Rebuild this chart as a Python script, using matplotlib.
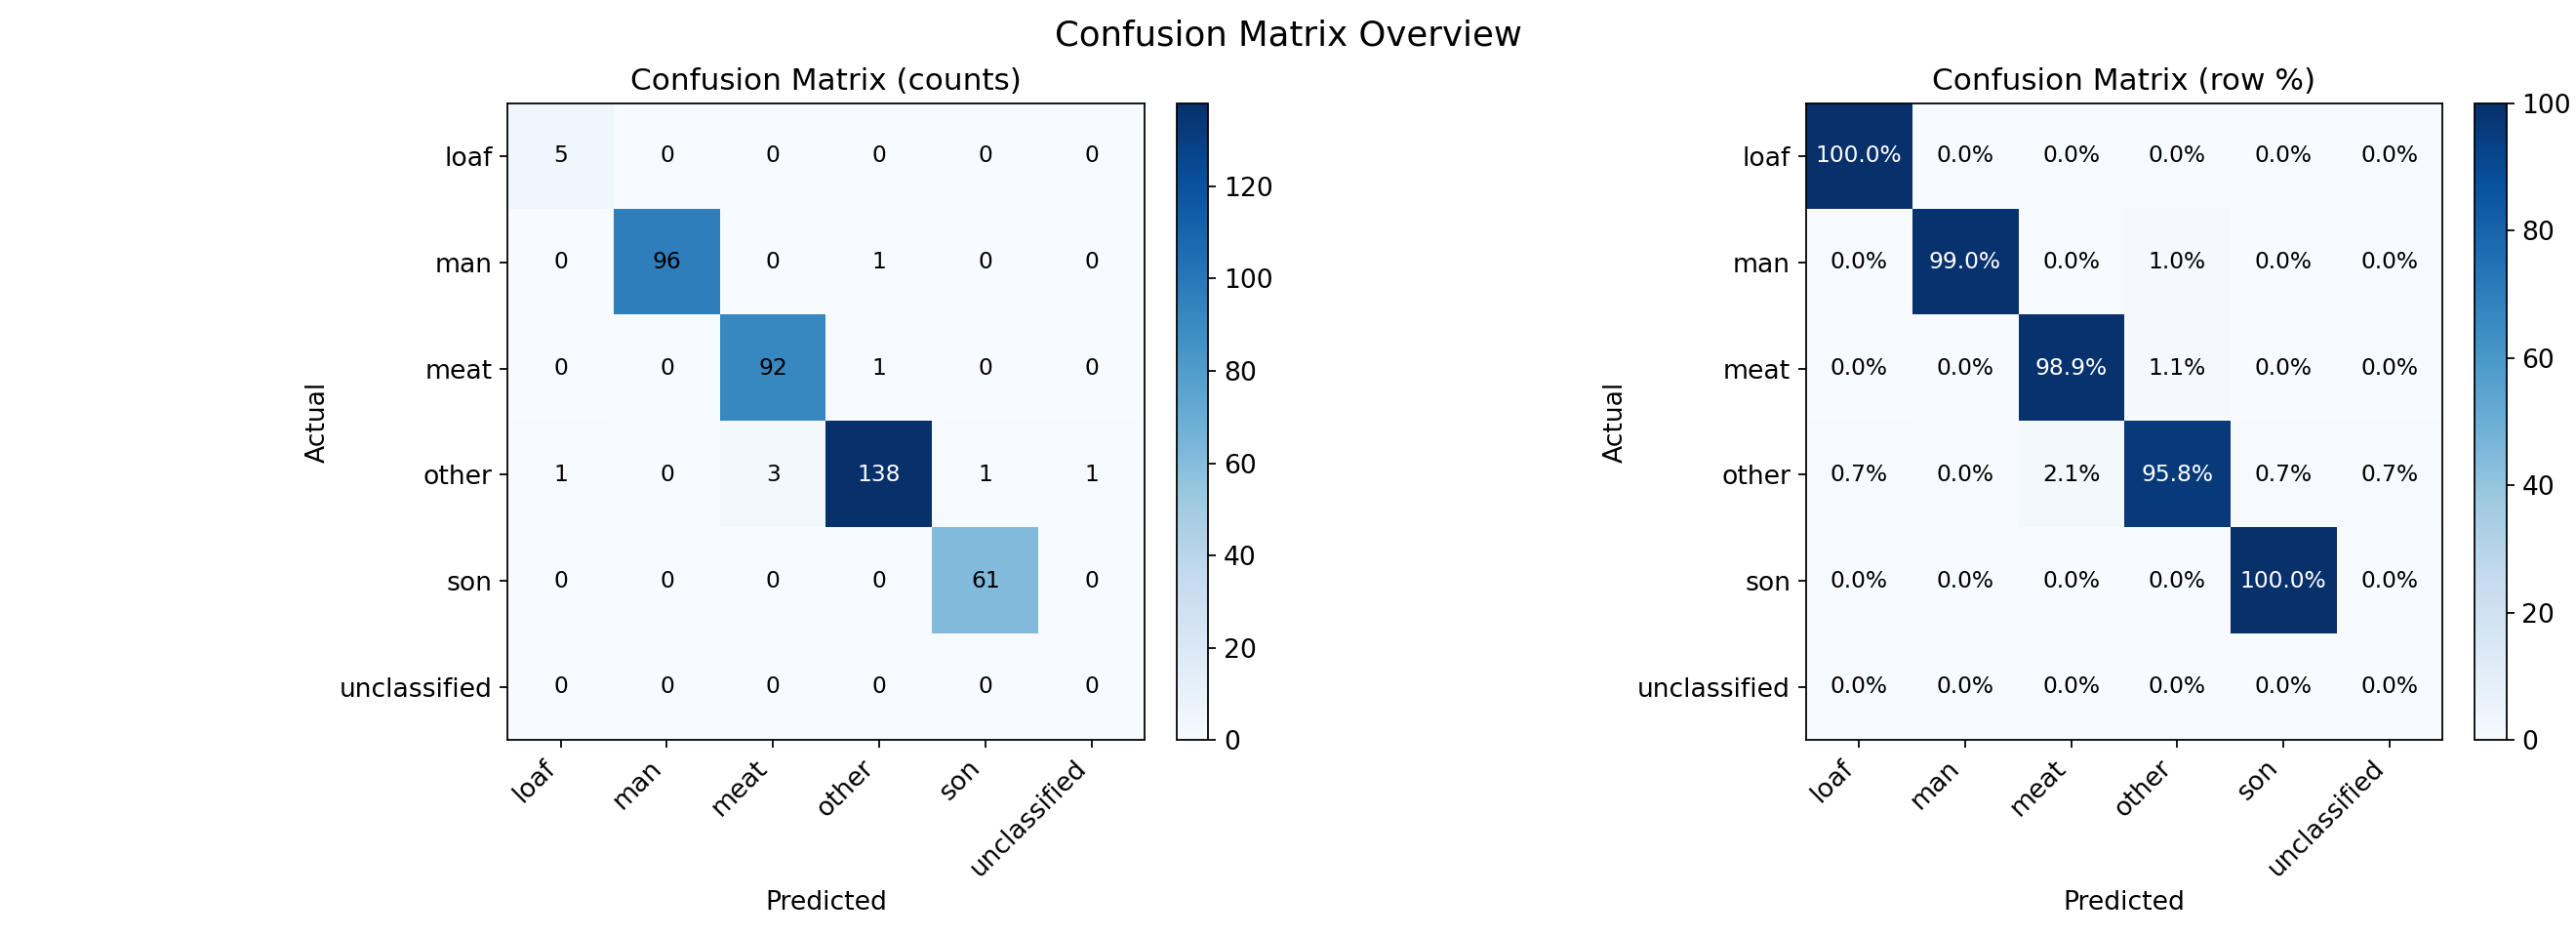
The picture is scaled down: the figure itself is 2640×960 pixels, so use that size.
import numpy as np
import matplotlib
matplotlib.use("Agg")
import matplotlib.pyplot as plt

labels = ["loaf", "man", "meat", "other", "son", "unclassified"]
counts = np.array([
    [5, 0, 0, 0, 0, 0],
    [0, 96, 0, 1, 0, 0],
    [0, 0, 92, 1, 0, 0],
    [1, 0, 3, 138, 1, 1],
    [0, 0, 0, 0, 61, 0],
    [0, 0, 0, 0, 0, 0],
])

row_sums = counts.sum(axis=1, keepdims=True)
pct = np.divide(counts * 100.0, row_sums, out=np.zeros(counts.shape), where=row_sums > 0)

fig, axes = plt.subplots(1, 2, figsize=(16.5, 6), dpi=160)


def draw(ax, mat, title, fmt, vmax, thresh):
    im = ax.imshow(mat, cmap="Blues", vmin=0, vmax=vmax)
    cb = fig.colorbar(im, ax=ax, fraction=0.046, pad=0.04)
    cb.ax.tick_params(labelsize=12)
    ax.set_title(title, fontsize=14)
    ax.set_xticks(range(len(labels)))
    ax.set_yticks(range(len(labels)))
    ax.set_xticklabels(labels, rotation=45, ha="right", fontsize=12)
    ax.set_yticklabels(labels, fontsize=12)
    ax.set_xlabel("Predicted", fontsize=12)
    ax.set_ylabel("Actual", fontsize=12)
    for i in range(mat.shape[0]):
        for j in range(mat.shape[1]):
            v = mat[i, j]
            ax.text(j, i, fmt(v), ha="center", va="center", fontsize=10.5,
                    color="white" if v > thresh else "black")


draw(axes[0], counts, "Confusion Matrix (counts)", lambda v: f"{int(v)}",
     counts.max(), counts.max() * 0.7)
draw(axes[1], pct, "Confusion Matrix (row %)", lambda v: f"{v:.1f}%", 100, 50)

fig.suptitle("Confusion Matrix Overview", fontsize=16)
fig.subplots_adjust(left=0.16, right=0.975, top=0.89, bottom=0.21, wspace=0.62)
fig.savefig("out.png")
